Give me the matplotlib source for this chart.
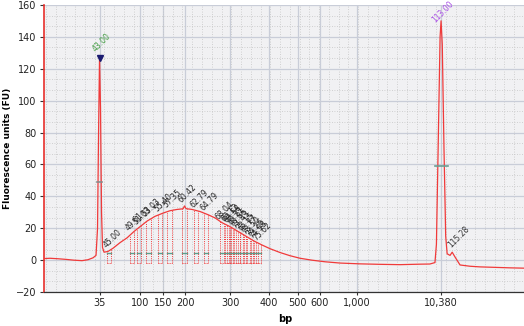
import numpy as np
import matplotlib
matplotlib.use("Agg")
import matplotlib.pyplot as plt
from matplotlib.ticker import FixedLocator, MultipleLocator


# electropherogram trace: migration time (s) vs fluorescence (FU)
TRACE_TIME = [
    31.62, 32.85, 34.49, 36.13, 37.77, 39.41, 40.64, 41.67, 42.28, 42.59,
    42.80, 43.00, 43.20, 43.41, 43.61, 43.92, 44.74, 45.77, 47.20, 48.64,
    50.07, 51.30, 52.74, 54.38, 56.01, 57.45, 58.88, 60.11, 60.42, 60.73,
    61.96, 63.60, 65.24, 66.67, 68.11, 69.75, 71.39, 73.03, 74.67, 76.31,
    77.95, 80.00, 82.05, 84.10, 86.55, 89.22, 92.30, 96.40, 100.50, 104.60,
    108.70, 110.70, 111.75, 112.05, 112.40, 112.80, 113.00, 113.25, 113.60, 113.95,
    114.25, 114.84, 115.28, 115.86, 116.89, 118.94, 120.99, 124.07, 127.14, 130.00,
]
TRACE_FU = [
    1.0, 1.2, 0.9, 0.5, 0.0, -0.3, 0.3, 1.5, 3.0, 20.0,
    80.0, 127.0, 95.0, 30.0, 8.0, 5.0, 5.5, 7.5, 11.0, 14.0,
    18.0, 21.0, 24.5, 27.5, 29.5, 31.0, 31.8, 32.2, 34.0, 32.3,
    31.8, 30.5, 28.5, 26.5, 23.5, 21.0, 18.0, 15.0, 12.0, 9.5,
    7.2, 4.8, 2.8, 1.2, 0.0, -1.0, -1.8, -2.3, -2.6, -2.8,
    -2.5, -2.4, -1.5, 10.0, 70.0, 140.0, 150.0, 135.0, 70.0, 15.0,
    4.0, 3.0, 5.0, 2.0, -3.0, -3.8, -4.2, -4.5, -4.8, -5.0,
]

# lower / upper marker and small peak after upper marker
MARKER_TIMES = [43.00, 113.00]
SIDE_PEAK = 115.28

# smear peaks called by the software
SMEAR_PEAKS = [
    45.00, 49.61, 51.03, 53.03, 55.40, 57.35, 60.42, 62.79, 64.79, 68.04,
    69.12, 69.58, 70.21, 70.86, 71.43, 72.15, 72.77, 73.50, 74.26, 74.98, 75.62,
]

# size ladder: bp labels at their migration times
BP_LABELS = ["35", "100", "150", "200", "300", "400", "500", "600", "1,000", "10,380"]
BP_TIMES = [43.00, 51.30, 56.01, 60.59, 69.75, 77.74, 83.58, 88.19, 95.78, 113.00]

TRACE_COLOR = "#f03a3a"
GRID_COLOR = "#c9cdd8"


def curve_at(t):
    return float(np.interp(t, TRACE_TIME, TRACE_FU))


def draw_peak_windows(ax):
    half = 0.45
    for t in SMEAR_PEAKS:
        t0, t1 = t - half, t + half
        for edge in (t0, t1):
            ax.plot([edge, edge], [-2, curve_at(edge)], color=TRACE_COLOR,
                    lw=0.7, ls=(0, (1, 1.2)), zorder=3)
        ax.plot([t0, t1], [-2, -2], color=TRACE_COLOR, lw=0.7,
                ls=(0, (1, 1.2)), zorder=3)
        ax.plot([t0, t1], [4.5, 4.5], color="#5f9f8c", lw=1.0, zorder=3)


def draw_labels(ax):
    kw = dict(rotation=45, rotation_mode="anchor", ha="left", va="bottom",
              fontsize=5.5, textcoords="offset points", annotation_clip=False)

    lo, hi = MARKER_TIMES
    ax.plot([lo], [curve_at(lo)], marker="v", color="#1b1b70", ms=4.5, zorder=6)
    ax.annotate(f"{lo:.2f}", (lo, curve_at(lo)), xytext=(-2, 3),
                color="#3f9a3f", **kw)
    ax.annotate(f"{hi:.2f}", (hi, curve_at(hi)), xytext=(-3, -2.5),
                color="#a94fe6", **kw)
    ax.annotate(f"{SIDE_PEAK:.2f}", (SIDE_PEAK, curve_at(SIDE_PEAK)),
                xytext=(0, 2), color="#333333", **kw)

    for t in SMEAR_PEAKS:
        ax.annotate(f"{t:.2f}", (t, curve_at(t)), xytext=(-1, 1),
                    color="#222222", **kw)

    # marker midpoint dashes
    ax.plot([lo - 0.5, lo + 0.5], [49, 49], color="#8a8a8a", lw=1.2, zorder=5)
    ax.plot([hi - 1.2, hi + 1.4], [59, 59], color="#6a9d92", lw=1.2, zorder=5)


def main():
    fig = plt.figure(figsize=(5.24, 3.26), dpi=100)
    ax = fig.add_axes([0.084, 0.104, 0.916, 0.881])
    ax.set_facecolor("#f1f1f3")

    ax.set_xlim(31.62, 130.0)
    ax.set_ylim(-20, 160)

    ax.xaxis.set_major_locator(FixedLocator(BP_TIMES))
    ax.set_xticklabels(BP_LABELS)
    ax.xaxis.set_minor_locator(MultipleLocator(2.0))
    ax.yaxis.set_major_locator(MultipleLocator(20))
    ax.yaxis.set_minor_locator(MultipleLocator(20 / 3))

    ax.grid(which="major", color=GRID_COLOR, lw=0.9, zorder=0)
    ax.grid(which="minor", color="#c4c4c4", lw=0.6, ls=(0, (1, 2)), zorder=0)
    ax.set_axisbelow(True)

    ax.tick_params(which="minor", length=0)
    ax.tick_params(which="major", length=3, width=0.8, color="#333333",
                   labelsize=7, labelcolor="#222222", pad=2.5)
    ax.tick_params(axis="x", length=2)

    for side in ("top", "right"):
        ax.spines[side].set_visible(False)
    ax.spines["left"].set_color("#e8302c")
    ax.spines["left"].set_linewidth(1.2)
    ax.spines["bottom"].set_color("#333333")
    ax.spines["bottom"].set_linewidth(0.9)

    draw_peak_windows(ax)
    ax.plot(TRACE_TIME, TRACE_FU, color=TRACE_COLOR, lw=0.9, zorder=4)
    draw_labels(ax)

    ax.set_xlabel("bp", fontsize=7, fontweight="bold")
    ax.xaxis.set_label_coords(0.502, -0.075)
    ax.set_ylabel("Fluorescence units (FU)", fontsize=6.5, fontweight="bold")
    ax.yaxis.set_label_coords(-0.066, 0.5)

    fig.savefig("out.png", dpi=100)
    plt.close(fig)


if __name__ == "__main__":
    main()
